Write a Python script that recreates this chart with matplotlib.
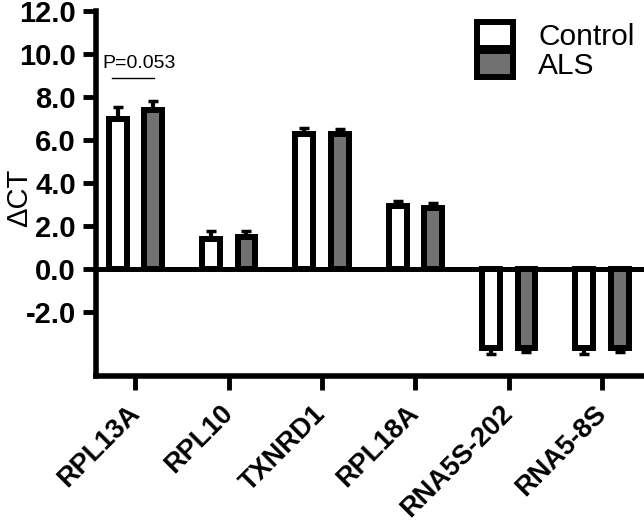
import numpy as np
import matplotlib
matplotlib.use("Agg")
import matplotlib.pyplot as plt

genes = ["RPL13A", "RPL10", "TXNRD1", "RPL18A", "RNA5S-202", "RNA5-8S"]
control = [6.97, 1.42, 6.30, 2.94, -3.67, -3.67]
control_err = [0.58, 0.34, 0.25, 0.25, 0.29, 0.29]
als = [7.42, 1.50, 6.30, 2.86, -3.67, -3.67]
als_err = [0.41, 0.29, 0.22, 0.23, 0.18, 0.18]
yticks = [-2, 0, 2, 4, 6, 8, 10, 12]

plt.rcParams['font.family'] = ['Liberation Sans', 'DejaVu Sans']

fig = plt.figure(figsize=(6.44, 5.22), dpi=100)
ax = fig.add_axes([0.149, 0.279, 0.851, 0.699])

x = np.arange(len(genes))
off = 0.19
w = 0.19
gray = "#717171"

def one_sided(vals, errs):
    lo = [e if v < 0 else 0 for v, e in zip(vals, errs)]
    hi = [e if v >= 0 else 0 for v, e in zip(vals, errs)]
    return [lo, hi]

for xs, vals, errs, fc, lab in [(x - off, control, control_err, "white", "Control"),
                                (x + off, als, als_err, gray, "ALS")]:
    ax.errorbar(xs, vals, yerr=one_sided(vals, errs), fmt="none", ecolor="black",
                elinewidth=3, capsize=3.8, capthick=2.5, zorder=2)
    ax.bar(xs, vals, width=w, color=fc, edgecolor="black", linewidth=4.3, label=lab, zorder=3)

ax.axhline(0, color="black", lw=3.6, zorder=4)

# p-value annotation
ax.plot([-0.25, 0.2], [8.88, 8.88], color="black", lw=1)
ax.text(0.04, 9.2, "P=0.053", ha="center", va="bottom", fontsize=14)

ax.set_xlim(-0.423, 5.45)
ax.set_ylim(-5, 12)
ax.set_yticks(yticks)
ax.set_yticklabels(["%.1f" % t for t in yticks], fontsize=21, fontweight="bold")
ax.set_xticks(x)
ax.set_xticklabels(genes, rotation=45, ha="right", va="center", rotation_mode="anchor",
                   fontsize=19.5, fontweight="bold")
ax.tick_params(axis="y", length=9.5, width=3.5, pad=5)
ax.tick_params(axis="x", length=10, width=3.5, pad=14)

for s in ["top", "right"]:
    ax.spines[s].set_visible(False)
for s in ["left", "bottom"]:
    ax.spines[s].set_linewidth(4)

ax.set_ylabel("ΔCT", fontsize=21)
ax.yaxis.set_label_coords(-0.115, 0.49)

ax.legend(loc="upper left", bbox_to_anchor=(477 / 644, 1 - 22 / 522),
          bbox_transform=fig.transFigure, frameon=False, fontsize=21.5,
          handlelength=1.2, handleheight=0.95, labelspacing=0.0,
          handletextpad=0.85, borderpad=0, borderaxespad=0)

fig.savefig("out.png", dpi=100)
